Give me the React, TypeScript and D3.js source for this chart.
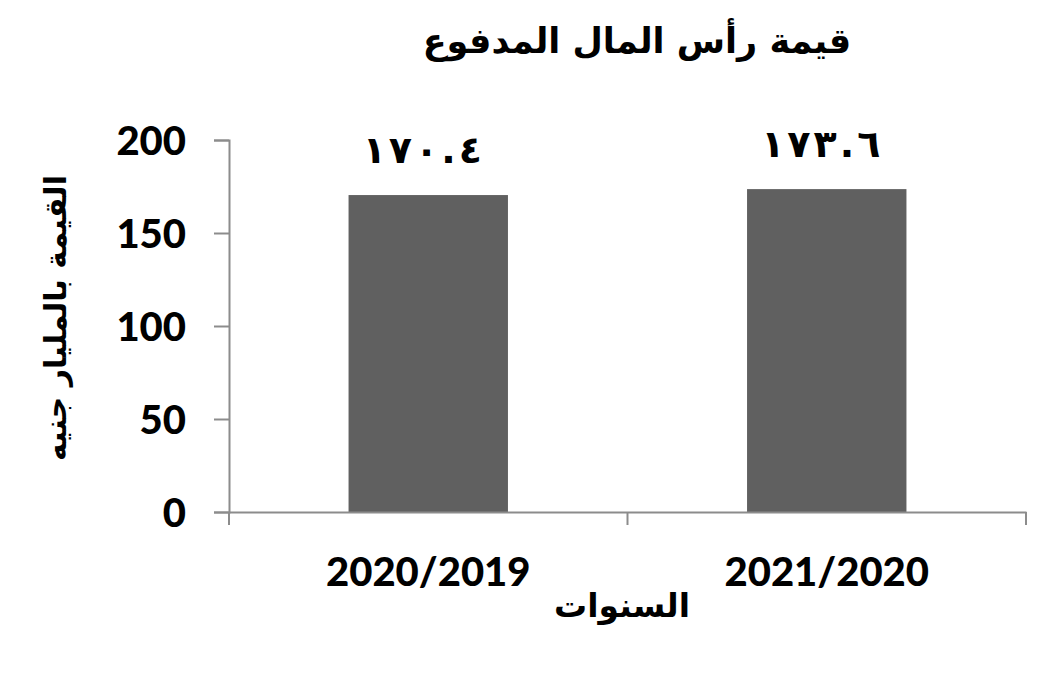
import { useEffect, useRef } from "react";
import * as d3 from "d3";

const categories = ["2020/2019", "2021/2020"];
const values = [170.4, 173.6];
const yTicks = [0, 50, 100, 150, 200];

const title = "قيمة رأس المال المدفوع";
const xTitle = "السنوات";
const yTitle = "القيمة بالمليار جنيه";

const arabicDigits = "٠١٢٣٤٥٦٧٨٩";
const toArabic = (v: number) =>
  v.toFixed(1).replace(/[0-9]/g, (d) => arabicDigits[+d]);

export default function App() {
  const svgRef = useRef<SVGSVGElement>(null);
  const width = 1039;
  const height = 680;

  useEffect(() => {
    if (!svgRef.current) return;
    const svg = d3.select(svgRef.current);
    svg.selectAll("*").remove();

    const margin = { top: 140, right: 13, bottom: 168, left: 229 };
    const innerWidth = width - margin.left - margin.right;
    const innerHeight = height - margin.top - margin.bottom;

    const g = svg.append("g")
      .attr("transform", `translate(${margin.left},${margin.top})`);

    const x = d3.scaleBand<string>()
      .domain(categories)
      .range([0, innerWidth])
      .paddingInner(0.6)
      .paddingOuter(0.3);

    const y = d3.scaleLinear().domain([0, 200]).range([innerHeight, 0]);

    const axisColor = "#8c8c8c";
    const arabicFont = "'DejaVu Sans', sans-serif";
    const numFont = "Lato, 'Open Sans', sans-serif";

    // Title
    svg.append("text")
      .attr("x", 637)
      .attr("y", 53)
      .attr("text-anchor", "middle")
      .attr("direction", "rtl")
      .attr("font-family", arabicFont)
      .attr("font-weight", "bold")
      .attr("font-size", "35px")
      .attr("fill", "#000")
      .text(title);

    // Bars
    g.selectAll("rect.bar")
      .data(values)
      .join("rect")
      .attr("class", "bar")
      .attr("x", (_, i) => x(categories[i]) as number)
      .attr("y", (d) => y(d))
      .attr("width", x.bandwidth())
      .attr("height", (d) => innerHeight - y(d))
      .attr("fill", "#606060");

    // Value labels (digits spread out with tspans, letter-spacing is ignored for Arabic digits)
    const labels = g.selectAll("text.val")
      .data(values)
      .join("text")
      .attr("class", "val")
      .attr("x", (_, i) => (x(categories[i]) as number) + x.bandwidth() / 2 - 6)
      .attr("y", (d) => y(d) - 32)
      .attr("text-anchor", "middle")
      .attr("font-family", arabicFont)
      .attr("font-weight", "bold")
      .attr("font-size", "38px")
      .attr("fill", "#000");
    labels.selectAll("tspan")
      .data((d) => toArabic(d).split(""))
      .join("tspan")
      .attr("dx", (_, i) => (i === 0 ? 0 : 3))
      .text((c) => c);

    // Y axis
    const yAxis = g.append("g")
      .call(d3.axisLeft(y).tickValues(yTicks).tickSize(15).tickPadding(28));
    yAxis.select(".domain").attr("stroke", axisColor).attr("stroke-width", 2);
    yAxis.selectAll(".tick line").attr("stroke", axisColor).attr("stroke-width", 2);
    yAxis.selectAll(".tick text")
      .attr("fill", "#000")
      .attr("font-family", numFont)
      .attr("font-weight", "900")
      .attr("font-size", "40px")
      .attr("dy", "0.35em");

    // X axis
    const xAxis = g.append("g")
      .attr("transform", `translate(0,${innerHeight})`)
      .call(d3.axisBottom(x).tickSize(0).tickPadding(46));
    xAxis.select(".domain").attr("stroke", axisColor).attr("stroke-width", 2);
    xAxis.selectAll(".tick text")
      .attr("fill", "#000")
      .attr("font-family", numFont)
      .attr("font-weight", "900")
      .attr("font-size", "40px");

    // Category boundary ticks
    const bounds = [0, x.step() * 1, innerWidth];
    xAxis.selectAll("line.bound")
      .data(bounds)
      .join("line")
      .attr("class", "bound")
      .attr("x1", (d) => d)
      .attr("x2", (d) => d)
      .attr("y1", 0)
      .attr("y2", 13)
      .attr("stroke", axisColor)
      .attr("stroke-width", 2);

    // Axis titles
    svg.append("text")
      .attr("x", 622)
      .attr("y", 617)
      .attr("text-anchor", "middle")
      .attr("direction", "rtl")
      .attr("font-family", arabicFont)
      .attr("font-weight", "bold")
      .attr("font-size", "33px")
      .attr("fill", "#000")
      .text(xTitle);

    svg.append("text")
      .attr("transform", "translate(66,318) rotate(-90)")
      .attr("text-anchor", "middle")
      .attr("direction", "rtl")
      .attr("font-family", arabicFont)
      .attr("font-weight", "bold")
      .attr("font-size", "30px")
      .attr("fill", "#000")
      .text(yTitle);
  }, []);

  return (
    <svg
      ref={svgRef}
      width={width}
      height={height}
      style={{ position: "absolute", left: 0, top: 0, background: "#fff" }}
    />
  );
}
